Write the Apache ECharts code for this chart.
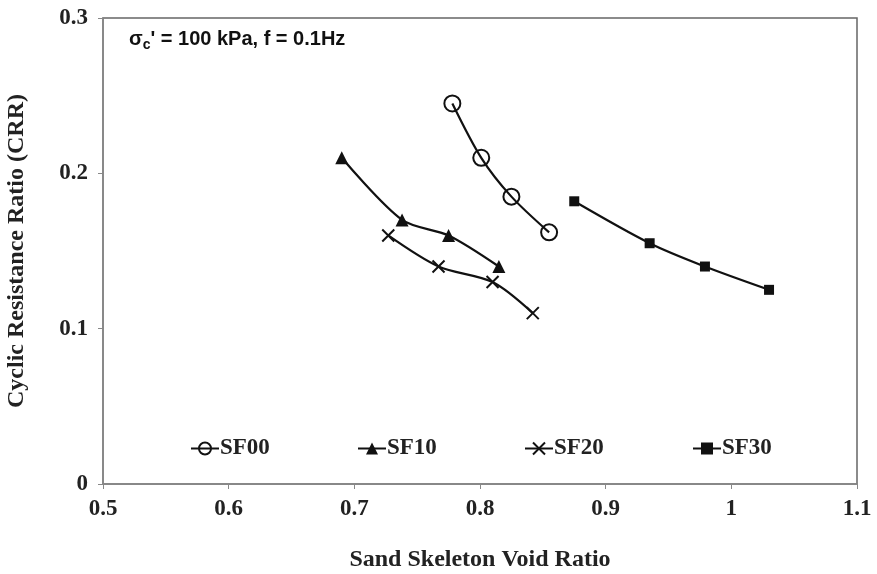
<!DOCTYPE html>
<html><head><meta charset="utf-8">
<script src="https://cdn.jsdelivr.net/npm/echarts@6/dist/echarts.min.js"></script>
<style>html,body{margin:0;padding:0;background:#fff}#c{width:877px;height:574px}</style>
</head><body><div id="c"></div>
<script>
const seriesNames = ['SF00','SF10','SF20','SF30'];
const sf00 = [[0.778,0.245],[0.801,0.210],[0.825,0.185],[0.855,0.162]];
const sf10 = [[0.690,0.210],[0.738,0.170],[0.775,0.160],[0.815,0.140]];
const sf20 = [[0.727,0.160],[0.767,0.140],[0.810,0.130],[0.842,0.110]];
const sf30 = [[0.875,0.182],[0.935,0.155],[0.979,0.140],[1.030,0.125]];
const xTicks = [0.5,0.6,0.7,0.8,0.9,1,1.1];
const yTicks = [0,0.1,0.2,0.3];

const ink = '#111';
const serif = '"Liberation Serif","Times New Roman",serif';
const sans = '"Liberation Sans",Arial,sans-serif';
const chart = echarts.init(document.getElementById('c'));
const lineBase = {type:'line', smooth:0.3, lineStyle:{color:ink,width:2.2}, color:ink, z:3};
const legendPos = [185, 352, 519, 687];
chart.setOption({
  animation:false,
  grid:{left:103,right:20,top:18,bottom:90,containLabel:false,outerBoundsMode:'none',
    show:true,borderColor:'#666',borderWidth:1.5,backgroundColor:'transparent'},
  xAxis:{type:'value',min:0.5,max:1.1,interval:0.1,
    axisLine:{show:true,onZero:false,lineStyle:{color:'#888',width:1.5}},
    axisTick:{show:true,length:5,lineStyle:{color:'#888'}},
    splitLine:{show:false},
    axisLabel:{margin:14,fontFamily:serif,fontWeight:'bold',fontSize:23,color:'#222',
      formatter:v=>xTicks.includes(+v.toFixed(2))?String(+v.toFixed(2)):''},
    name:'Sand Skeleton Void Ratio',nameLocation:'middle',nameGap:64,
    nameTextStyle:{fontFamily:serif,fontWeight:'bold',fontSize:24,color:'#222'}},
  yAxis:{type:'value',min:0,max:0.3,interval:0.1,
    axisLine:{show:true,lineStyle:{color:'#888',width:1.5}},
    axisTick:{show:true,length:5,lineStyle:{color:'#888'}},
    splitLine:{show:false},
    axisLabel:{margin:15,fontFamily:serif,fontWeight:'bold',fontSize:23,color:'#222',
      formatter:v=>yTicks.includes(+v.toFixed(2))?String(+v.toFixed(2)):''},
    name:'Cyclic Resistance Ratio (CRR)',nameLocation:'middle',nameGap:74,
    nameTextStyle:{fontFamily:serif,fontWeight:'bold',fontSize:24,color:'#222'}},
  legend: seriesNames.map((n,i)=>({data:[n],left:legendPos[i],top:432,itemWidth:28,itemHeight:15,itemGap:4,
    textStyle:{fontFamily:serif,fontWeight:'bold',fontSize:23,color:'#222',padding:[0,0,0,-4]}})),
  graphic:[{type:'text',left:129,top:29,style:{
    text:'σ{s|c}\' = 100 kPa, f = 0.1Hz',
    font:'bold 20px '+sans,fill:'#111',
    rich:{s:{font:'bold 14px '+sans,fill:'#111',padding:[12,0,0,0]}}}}],
  series:[
    Object.assign({},lineBase,{name:'SF00',data:sf00,symbol:'circle',symbolSize:16,
      itemStyle:{color:'transparent',borderColor:ink,borderWidth:2}}),
    Object.assign({},lineBase,{name:'SF10',data:sf10,symbol:'triangle',symbolSize:13,
      itemStyle:{color:ink}}),
    Object.assign({},lineBase,{name:'SF20',data:sf20,symbol:'path://M0 0L10 10M10 0L0 10',symbolSize:12,
      itemStyle:{color:'transparent',borderColor:ink,borderWidth:2}}),
    Object.assign({},lineBase,{name:'SF30',data:sf30,symbol:'rect',symbolSize:10,
      itemStyle:{color:ink}})
  ]
});
</script></body></html>
